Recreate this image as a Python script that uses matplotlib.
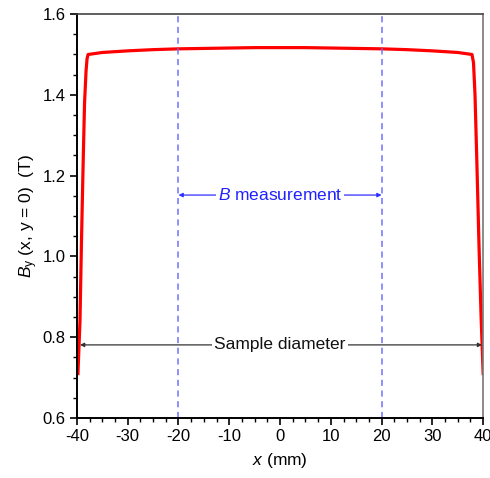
import matplotlib
matplotlib.use("Agg")
import matplotlib.pyplot as plt
from matplotlib.ticker import MultipleLocator, FormatStrFormatter

plt.rcParams['font.family'] = ['Liberation Sans', 'DejaVu Sans']
plt.rcParams['mathtext.fontset'] = 'custom'
plt.rcParams['mathtext.it'] = 'Liberation Sans:italic'
plt.rcParams['mathtext.rm'] = 'Liberation Sans'
plt.rcParams['axes.unicode_minus'] = False

# Data
x_mm = [-39.8, -39.4, -39.1, -38.76, -38.5, -38.2, -38.0, -37.8, -35, -30, -25, -20, -15,
        -10, -5, 0, 5, 10, 15, 20, 25, 30, 35, 37.8, 38.1, 38.4, 38.75, 39.2, 39.6, 40.0]
by_T = [0.71, 0.84, 1.04, 1.24, 1.38, 1.46, 1.49, 1.500, 1.505, 1.509, 1.512, 1.514, 1.515,
        1.516, 1.517, 1.517, 1.517, 1.516, 1.515, 1.514, 1.512, 1.509, 1.505, 1.500, 1.48,
        1.40, 1.24, 1.02, 0.85, 0.71]
meas_lines = [-20, 20]
meas_y = 1.152
sample_span = [-39.4, 39.8]
sample_y = 0.781

fig = plt.figure(figsize=(4.9, 4.78), dpi=100)
ax = fig.add_axes([0.157, 0.1255, 0.829, 0.845])

ax.plot(x_mm, by_T, color='#ff0000', lw=2.3, solid_joinstyle='round')

for xv in meas_lines:
    ax.axvline(xv, color='#7070ff', lw=1.1, ls=(0, (4, 3)))

# B measurement arrow
ax.annotate('', xy=(meas_lines[0], meas_y), xytext=(meas_lines[1], meas_y),
            arrowprops=dict(arrowstyle='<|-|>', color='#3030ff', lw=0.9,
                            mutation_scale=6, shrinkA=0, shrinkB=0))
ax.text(0, meas_y, r'$\mathit{B}$ measurement', color='#2020ff', fontsize=12.5,
        ha='center', va='center', bbox=dict(fc='white', ec='none', pad=1.0))

# Sample diameter arrow
ax.annotate('', xy=(sample_span[0], sample_y), xytext=(sample_span[1], sample_y),
            arrowprops=dict(arrowstyle='<|-|>', color='#333333', lw=0.9,
                            mutation_scale=6, shrinkA=0, shrinkB=0))
ax.text(0, sample_y, 'Sample diameter', color='#111111', fontsize=12.5,
        ha='center', va='center', bbox=dict(fc='white', ec='none', pad=1.5))

ax.set_xlim(-40, 40)
ax.set_ylim(0.6, 1.6)
ax.xaxis.set_major_locator(MultipleLocator(10))
ax.xaxis.set_minor_locator(MultipleLocator(2.5))
ax.yaxis.set_major_locator(MultipleLocator(0.2))
ax.yaxis.set_minor_locator(MultipleLocator(0.05))
ax.yaxis.set_major_formatter(FormatStrFormatter('%.1f'))

ax.tick_params(which='both', direction='out', top=False, right=False, labelsize=12, colors='black')
ax.tick_params(which='major', length=5, width=1.2, pad=3)
ax.tick_params(which='minor', length=3, width=1.0)

for s in ['left', 'bottom']:
    ax.spines[s].set_linewidth(1.4)
    ax.spines[s].set_color('black')
ax.spines['top'].set_color('#444444')
ax.spines['top'].set_linewidth(1.2)
ax.spines['right'].set_color('#777777')
ax.spines['right'].set_linewidth(1.2)

ax.set_xlabel(r'$\mathit{x}$ (mm)', fontsize=12.5, labelpad=5)
ax.set_ylabel(r'$\mathit{B}_{\mathrm{y}}$ (x, y = 0)  (T)', fontsize=12.5, labelpad=2)

fig.savefig('out.png', dpi=100)
